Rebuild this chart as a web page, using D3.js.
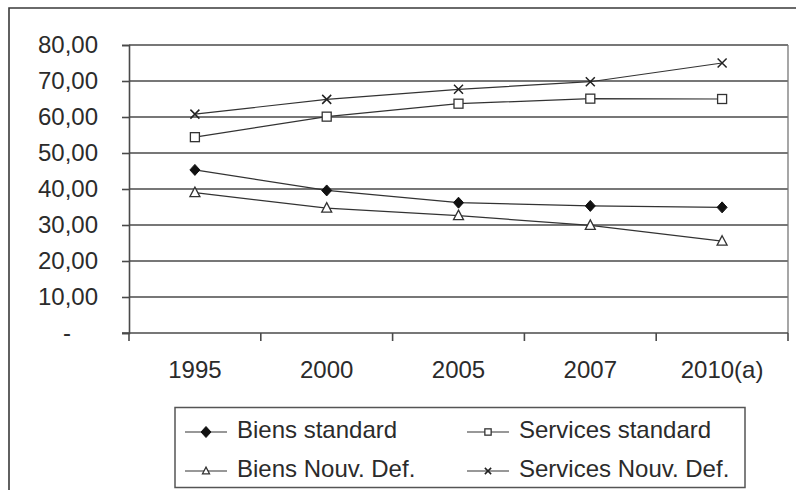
<!DOCTYPE html>
<html>
<head>
<meta charset="utf-8">
<script src="https://cdn.jsdelivr.net/npm/d3@7/dist/d3.min.js"></script>
<style>
  html, body { margin: 0; padding: 0; background: #fff; }
  svg { display: block; font-family: "Liberation Sans", Arial, sans-serif; }
</style>
</head>
<body>
<svg id="chart" width="796" height="490"></svg>
<script>
// Années et séries
const years = ["1995", "2000", "2005", "2007", "2010(a)"];
const biensStandard   = [45.3, 39.6, 36.2, 35.3, 34.9];
const servicesStandard = [54.4, 60.1, 63.7, 65.1, 65.0];
const biensNouvDef    = [39.0, 34.7, 32.6, 29.9, 25.5];
const servicesNouvDef = [60.8, 64.9, 67.7, 69.8, 75.0];
const yTicks = [0, 10, 20, 30, 40, 50, 60, 70, 80];

const seriesNames = ["Biens standard", "Services standard", "Biens Nouv. Def.", "Services Nouv. Def."];
const seriesValues = [biensStandard, servicesStandard, biensNouvDef, servicesNouvDef];
const seriesMarkers = ["diamond", "square", "triangle", "cross"];

const svg = d3.select("#chart");
const ink = "#2b2b2b";
const gridInk = "#4a4a4a";

// Cadre extérieur (ouvert à droite et en bas)
svg.append("path")
  .attr("d", "M9,490 L9,8 L796,8")
  .attr("fill", "none").attr("stroke", "#3a3a3a").attr("stroke-width", 1.6);

const plot = { left: 129, right: 788, top: 45, bottom: 333 };

const x = d3.scaleBand().domain(years).range([plot.left, plot.right]).padding(0);
const y = d3.scaleLinear().domain([0, 80]).range([plot.bottom, plot.top]);

const fr = d3.formatLocale({ decimal: ",", thousands: " ", grouping: [3], currency: ["", " €"] });
const fmt = fr.format(".2f");

// Quadrillage horizontal
svg.append("g")
  .selectAll("line").data(yTicks.filter(d => d > 0)).join("line")
  .attr("x1", plot.left).attr("x2", plot.right)
  .attr("y1", d => y(d)).attr("y2", d => y(d))
  .attr("stroke", gridInk).attr("stroke-width", 1.6);

// Bord droit de la zone de tracé
svg.append("line")
  .attr("x1", plot.right).attr("x2", plot.right)
  .attr("y1", plot.top).attr("y2", plot.bottom)
  .attr("stroke", "#777").attr("stroke-width", 1.3);

// Axe vertical
const yAxis = d3.axisLeft(y)
  .tickValues(yTicks)
  .tickSize(7)
  .tickPadding(24)
  .tickFormat(d => d === 0 ? "-" : fmt(d));
const gy = svg.append("g").attr("transform", `translate(${plot.left},0)`).call(yAxis);
gy.select(".domain").attr("stroke", gridInk).attr("stroke-width", 1.6);
gy.selectAll(".tick line").attr("stroke", gridInk).attr("stroke-width", 1.6);
gy.selectAll(".tick text")
  .attr("fill", ink).style("font-size", "24px")
  .attr("dx", d => d === 0 ? -27 : 0);

// Axe horizontal : graduations aux limites des catégories
const gx = svg.append("g").attr("transform", `translate(0,${plot.bottom})`);
gx.append("line")
  .attr("x1", plot.left - 7).attr("x2", plot.right)
  .attr("stroke", gridInk).attr("stroke-width", 1.6);
const edges = years.map(d => x(d)).concat([x(years[years.length - 1]) + x.bandwidth()]);
gx.selectAll("line.edge").data(edges).join("line").attr("class", "edge")
  .attr("x1", d => d).attr("x2", d => d).attr("y1", 0).attr("y2", 8)
  .attr("stroke", gridInk).attr("stroke-width", 1.6);
gx.selectAll("text").data(years).join("text")
  .attr("x", d => x(d) + x.bandwidth() / 2)
  .attr("y", 45)
  .attr("text-anchor", "middle")
  .attr("fill", ink).style("font-size", "24px")
  .text(d => d);

const cx = d => x(d) + x.bandwidth() / 2;

function drawMarker(g, type, px, py, s) {
  if (type === "diamond") {
    g.append("path").attr("d", `M${px},${py - 5.5}L${px + 5},${py}L${px},${py + 5.5}L${px - 5},${py}Z`)
      .attr("fill", "#111").attr("stroke", "#111").attr("stroke-width", 1);
  } else if (type === "square") {
    g.append("rect").attr("x", px - 4.5 * s).attr("y", py - 4.5 * s).attr("width", 9 * s).attr("height", 9 * s)
      .attr("fill", "#fff").attr("stroke", "#333").attr("stroke-width", 1.3);
  } else if (type === "triangle") {
    g.append("path").attr("d", `M${px},${py - 5.5 * s}L${px + 5 * s},${py + 4 * s}L${px - 5 * s},${py + 4 * s}Z`)
      .attr("fill", "#fff").attr("stroke", "#333").attr("stroke-width", 1.3);
  } else if (type === "cross") {
    g.append("path").attr("d", `M${px - 4.5 * s},${py - 4.5 * s}L${px + 4.5 * s},${py + 4.5 * s}M${px - 4.5 * s},${py + 4.5 * s}L${px + 4.5 * s},${py - 4.5 * s}`)
      .attr("fill", "none").attr("stroke", "#222").attr("stroke-width", 1.5);
  }
}

// Séries
const line = d3.line().x((v, i) => cx(years[i])).y(v => y(v));
seriesValues.forEach((vals, k) => {
  const g = svg.append("g");
  g.append("path").datum(vals).attr("d", line)
    .attr("fill", "none").attr("stroke", "#333").attr("stroke-width", 1.2);
  vals.forEach((v, i) => drawMarker(g, seriesMarkers[k], cx(years[i]), y(v), 1));
});

// Légende
const leg = svg.append("g");
leg.append("rect").attr("x", 175).attr("y", 407.5).attr("width", 570).attr("height", 80)
  .attr("fill", "#fff").attr("stroke", "#555").attr("stroke-width", 1.5);
const legPos = [
  { lx: 185, ly: 432 }, { lx: 467, ly: 432 },
  { lx: 185, ly: 471 }, { lx: 467, ly: 471 }
];
seriesNames.forEach((name, k) => {
  const p = legPos[k];
  leg.append("line").attr("x1", p.lx).attr("x2", p.lx + 42).attr("y1", p.ly).attr("y2", p.ly)
    .attr("stroke", "#333").attr("stroke-width", 1.2);
  drawMarker(leg, seriesMarkers[k], p.lx + 21, p.ly, 0.7);
  leg.append("text").attr("x", p.lx + 52).attr("y", p.ly + 6)
    .attr("fill", ink).style("font-size", "24px").text(name);
});
</script>
</body>
</html>
